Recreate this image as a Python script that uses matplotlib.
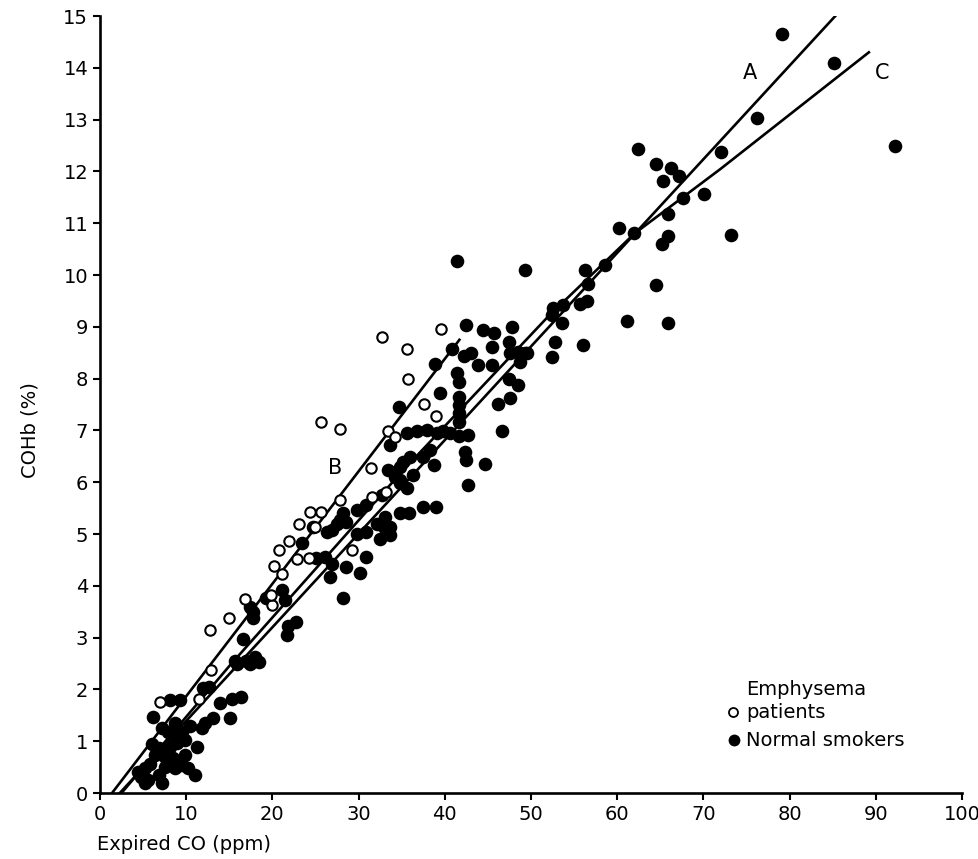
import numpy as np
import matplotlib
matplotlib.use("Agg")
import matplotlib.pyplot as plt

# Expired CO (ppm) vs COHb (%)

# emphysema patients (open circles)
emph_co = [7.0, 11.5, 12.9, 12.8, 15.0, 16.8, 20.0, 19.9, 20.2, 21.1, 20.8, 21.9,
           22.9, 24.2, 23.1, 24.9, 24.4, 25.6, 27.8, 29.2, 31.6, 33.2, 31.5, 25.7,
           27.8, 33.4, 34.2, 32.7, 35.6, 35.7, 37.6, 39.0, 39.6]
emph_cohb = [1.75, 1.81, 2.37, 3.15, 3.37, 3.75, 3.63, 3.82, 4.39, 4.22, 4.69, 4.86,
             4.52, 4.54, 5.20, 5.14, 5.42, 5.43, 5.65, 4.69, 5.71, 5.82, 6.27, 7.17,
             7.02, 6.99, 6.87, 8.81, 8.57, 8.00, 7.51, 7.28, 8.95]

# normal smokers (filled circles)
smok_co = [4.4, 4.8, 5.2, 5.6, 5.2, 5.8, 6.8, 7.2, 7.5, 6.4, 6.8, 7.5, 8.1, 8.5, 8.7,
           9.5, 10.2, 9.9, 8.9, 9.9, 8.7, 7.9, 9.5, 8.7, 11.0, 11.2, 11.8, 12.2, 13.1,
           15.1, 6.2, 8.1, 9.3, 12.0, 12.6, 13.9, 15.3, 16.4, 6.0, 7.2, 10.4,
           15.7, 16.9, 18.0, 18.4, 17.4, 15.9, 16.6, 17.8, 17.8, 17.4, 19.3, 21.1, 21.5,
           22.8, 21.8, 21.7,
           23.4, 26.3, 25.1, 26.1, 26.7, 26.9, 28.6, 30.2, 28.2, 30.9, 24.7, 26.9, 27.5,
           28.6, 29.8, 30.9, 28.2, 29.8, 30.9, 27.8, 32.1, 33.6, 33.6, 32.5, 32.9, 33.1,
           34.8, 35.8, 37.5, 39.0, 32.7,
           33.4, 34.2, 34.8, 35.6, 36.3, 34.8, 34.8, 35.2, 36.0, 37.5, 38.3, 38.7, 33.6,
           34.7, 35.6, 36.8, 37.9, 39.1, 39.8, 40.6, 41.6, 42.7, 42.3, 42.5, 44.7, 42.7,
           41.6, 41.6, 41.6, 41.6, 39.4, 41.4, 41.6, 38.9, 40.8, 42.2, 43.1, 43.9, 45.5,
           45.5, 47.4, 47.6, 48.5, 49.5, 47.4, 48.5, 47.6, 46.2, 46.6,
           42.5, 44.4, 45.7, 47.8, 41.4, 49.3, 48.7, 49.3, 52.4, 52.8, 52.4, 52.6, 53.7,
           53.6, 56.0, 55.7, 56.5, 56.6, 56.3, 58.6, 61.1, 65.9, 64.5,
           60.2, 61.9, 65.9, 65.2, 65.9, 67.6, 70.1, 65.3, 67.2, 66.2, 64.5, 62.4, 72.1,
           76.2, 79.1, 85.2, 92.2, 73.2]
smok_cohb = [0.41, 0.31, 0.19, 0.25, 0.48, 0.57, 0.35, 0.19, 0.51, 0.73, 0.86, 0.70,
             0.89, 0.67, 0.48, 0.54, 0.48, 0.73, 0.96, 1.02, 1.09, 1.18, 1.18, 1.35,
             0.35, 0.88, 1.25, 1.35, 1.44, 1.44, 1.46, 1.80, 1.80, 2.02, 2.05, 1.73,
             1.82, 1.86, 0.95, 1.25, 1.30,
             2.55, 2.55, 2.62, 2.53, 2.50, 2.50, 2.97, 3.37, 3.50, 3.60, 3.76, 3.92, 3.73,
             3.31, 3.22, 3.05,
             4.82, 5.04, 4.53, 4.56, 4.18, 4.43, 4.37, 4.24, 3.76, 4.56, 5.14, 5.07, 5.20,
             5.24, 5.01, 5.04, 5.40, 5.46, 5.56, 5.27, 5.20, 5.14, 4.98, 4.91, 5.14, 5.33,
             5.40, 5.40, 5.53, 5.53, 5.75,
             6.24, 6.11, 5.98, 5.88, 6.14, 6.30, 6.04, 6.40, 6.49, 6.49, 6.62, 6.33, 6.72,
             7.45, 6.95, 6.98, 7.00, 6.95, 6.98, 6.95, 6.90, 6.91, 6.59, 6.43, 6.36, 5.95,
             7.33, 7.17, 7.65, 7.49, 7.73, 8.10, 7.94, 8.29, 8.58, 8.44, 8.49, 8.26, 8.26,
             8.62, 8.71, 8.49, 8.52, 8.49, 8.00, 7.88, 7.62, 7.52, 6.99,
             9.04, 8.94, 8.89, 9.00, 10.27, 10.10, 8.33, 8.49, 8.41, 8.71, 9.23, 9.37, 9.42,
             9.07, 8.65, 9.44, 9.50, 9.82, 10.10, 10.20, 9.12, 9.07, 9.81,
             10.90, 10.82, 10.76, 10.59, 11.17, 11.48, 11.56, 11.81, 11.92, 12.07, 12.14,
             12.43, 12.37, 13.04, 14.65, 14.10, 12.50, 10.77]

# regression lines A, B and curve C (points read along them)
line_a_x = [2.3, 85.3]
line_a_y = [0.0, 15.0]
line_b_x = [1.4, 41.7]
line_b_y = [0.0, 8.75]
curve_c_x = [2.5, 15, 35, 52, 62, 72, 89.2]
curve_c_y = [0.0, 2.45, 6.2, 9.2, 10.8, 12.05, 14.3]

xticks = np.arange(0, 101, 10)
yticks = np.arange(0, 16, 1)

fig = plt.figure(figsize=(9.79, 8.59), dpi=100)
ax = fig.add_axes([0.1021, 0.0768, 0.8805, 0.9045])

ax.plot(line_a_x, line_a_y, color="black", lw=1.9)
ax.plot(line_b_x, line_b_y, color="black", lw=1.9)
ax.plot(curve_c_x, curve_c_y, color="black", lw=1.9)

ax.plot(smok_co, smok_cohb, "o", color="black", ms=9.8, mew=0, zorder=3)
ax.plot(emph_co, emph_cohb, "o", mfc="white", mec="black", ms=7.5, mew=1.5, zorder=4)

# line labels
ax.text(75.4, 13.9, "A", fontsize=15, ha="center", va="center")
ax.text(27.3, 6.27, "B", fontsize=15, ha="center", va="center")
ax.text(90.7, 13.9, "C", fontsize=15, ha="center", va="center")

# hand made key
ax.text(75.0, 2.0, "Emphysema", fontsize=14, ha="left", va="center")
ax.plot(73.4, 1.56, "o", mfc="white", mec="black", ms=6.5, mew=1.3)
ax.text(75.0, 1.56, "patients", fontsize=14, ha="left", va="center")
ax.plot(73.6, 1.02, "o", color="black", ms=8.5, mew=0)
ax.text(75.0, 1.02, "Normal smokers", fontsize=14, ha="left", va="center")

ax.set_xlim(0, 100)
ax.set_ylim(0, 15)
ax.set_xticks(xticks)
ax.set_yticks(yticks)
ax.tick_params(direction="out", length=5, width=1.5, labelsize=14)
ax.spines["top"].set_visible(False)
ax.spines["right"].set_visible(False)
ax.spines["left"].set_linewidth(1.9)
ax.spines["bottom"].set_linewidth(1.9)

fig.text(30 / 979, 1 - 430 / 859, "COHb (%)", rotation=90, fontsize=14,
         ha="center", va="center")
fig.text(97 / 979, 1 - 845 / 859, "Expired CO (ppm)", fontsize=14,
         ha="left", va="center")

fig.savefig("out.png", dpi=100)
